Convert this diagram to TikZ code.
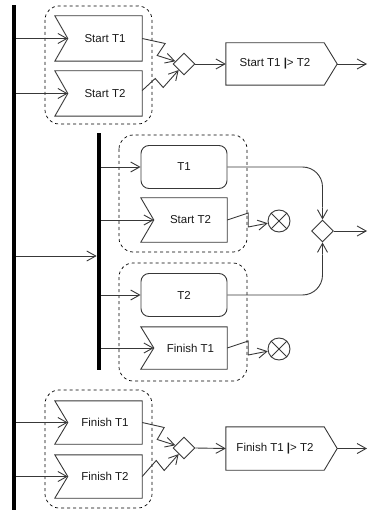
\documentclass[tikz,border=0pt]{standalone}
\usepackage{fontspec}
\setmainfont{Liberation Sans}
\usetikzlibrary{arrows.meta,shapes.geometric}
\tikzset{
  ln/.style={draw=black!78, line width=0.9pt},
  arr/.style={ln, -{Straight Barb[length=9pt,width=10pt]}},
  grp/.style={draw=black, dashed, line width=0.7pt, rounded corners=14pt},
  barbox/.style={fill=black, draw=none, inner sep=0pt, minimum width=4.3pt},
  boxnode/.style={inner sep=0pt, draw=none},
  lbl/.style={font=\fontsize{11.5}{13}\selectfont, text=black!90, inner sep=0pt},
  dec/.style={ln, diamond, aspect=1, inner sep=0pt, minimum size=22pt, fill=white},
  fin/.style={ln, circle, inner sep=0pt, minimum size=22pt},
}
\newcommand\accev[6]{% name, cx, cy, w, h, text
  \node[boxnode, minimum width=#4pt, minimum height=#5pt] (#1) at (#2,#3) {};
  \coordinate (#1-in) at ([xshift=13pt]#1.west);
  \draw[ln] (#1.north west) -- (#1.north east) -- (#1.south east) -- (#1.south west) -- (#1-in) -- cycle;
  \node[lbl] (#1-t) at ([xshift=6.5pt]#1.center) {#6};
}
\newcommand\sendsig[6]{% name, cx, cy, w, h, text
  \node[boxnode, minimum width=#4pt, minimum height=#5pt] (#1) at (#2,#3) {};
  \coordinate (#1-out) at ([xshift=13pt]#1.east);
  \draw[ln] (#1.north west) -- (#1.north east) -- (#1-out) -- (#1.south east) -- (#1.south west) -- cycle;
  \node[lbl] (#1-t) at (#1.center) {#6};
}
\newcommand\xfin[1]{%
  \draw[ln] (#1.north east) -- (#1.south west) (#1.north west) -- (#1.south east);
}
\begin{document}
\begin{tikzpicture}[x=1pt,y=-1pt]
\useasboundingbox (0,0) rectangle (367,510);

% main fork bar
\node[barbox, minimum height=505pt] (bar1) at (13.7,257.5) {};

% ---------- group 1 ----------
\draw[grp] (45,6) rectangle (152,124);
\accev{st1}{98.5}{38.5}{87}{45}{Start T1}
\accev{st2}{98.5}{93.5}{87}{45}{Start T2}
\node[dec] (d1) at (184,64) {};
\sendsig{p1}{275}{64}{98}{42}{Start T1 {\bfseries|}> T2}
\coordinate (o1) at (367,64);

\draw[arr] (st1-in -| bar1.east) -- (st1-in);
\draw[arr] (st2-in -| bar1.east) -- (st2-in);
\draw[arr] ([yshift=0pt]st1.east) -- ++(23,5) -- ++(-8,12) -- (d1);
\draw[arr] ([yshift=3pt]st2.east) -- ++(13,-12) -- ++(8,9) -- (d1);
\draw[arr] (d1.east) -- (p1.west);
\draw[arr] (p1-out) -- (o1);

% ---------- inner fork ----------
\node[barbox, minimum height=237pt] (bar2) at (99,251.5) {};
\coordinate (m3) at (15,256);
\draw[arr] (m3 -| bar1.east) -- (m3 -| bar2.west);

% group 2
\draw[grp] (119,135) rectangle (247,252);
\node[boxnode, ln, rounded corners=8pt, minimum width=86pt, minimum height=43pt] (t1) at (184,167) {};
\node[lbl] (t1-t) at (t1.center) {T1};
\accev{s22}{184}{220}{86}{44}{Start T2}
\node[fin] (x1) at (279,221) {};
\xfin{x1}

% group 3
\draw[grp] (119,263) rectangle (247,381);
\node[boxnode, ln, rounded corners=8pt, minimum width=86pt, minimum height=43pt] (t2) at (184,295) {};
\node[lbl] (t2-t) at (t2.center) {T2};
\accev{f21}{184}{348}{86}{42}{Finish T1}
\node[fin] (x2) at (279,349) {};
\xfin{x2}

\draw[arr] (t1.west -| bar2.east) -- (t1.west);
\draw[arr] (s22-in -| bar2.east) -- (s22-in);
\draw[arr] (t2.west -| bar2.east) -- (t2.west);
\draw[arr] (f21-in -| bar2.east) -- (f21-in);

\draw[arr] (s22.east) -- ++(21,-7) -- ++(0,14) -- (x1);
\draw[arr] (f21.east) -- ++(21,-7) -- ++(0,14) -- (x2);

\node[dec] (d2) at (322.5,231) {};
\coordinate (o2) at (367,231);
\coordinate (d2a) at ([yshift=12pt]d2.north);
\coordinate (d2b) at ([yshift=-12pt]d2.south);
\draw[ln, rounded corners=20pt] (t1.east) -- (t1.east -| d2.north) -- (d2a);
\draw[arr] (d2a) -- (d2.north);
\draw[ln, rounded corners=20pt] (t2.east) -- (t2.east -| d2.south) -- (d2b);
\draw[arr] (d2b) -- (d2.south);
\draw[arr] (d2.east) -- (o2);

% ---------- group 4 ----------
\draw[grp] (45,390) rectangle (152,508);
\accev{f1}{98.5}{422.5}{87}{43}{Finish T1}
\accev{f2}{98.5}{476.5}{87}{43}{Finish T2}
\node[dec] (d3) at (184,448) {};
\sendsig{p2}{275}{448.5}{98}{43}{Finish T1 {\bfseries|}> T2}
\coordinate (o3) at (367,448.5);

\draw[arr] (f1-in -| bar1.east) -- (f1-in);
\draw[arr] (f2-in -| bar1.east) -- (f2-in);
\draw[arr] (f1.east) -- ++(22,5) -- ++(-7,12) -- (d3);
\draw[arr] (f2.east) -- ++(14,-16) -- ++(8,10) -- (d3);
\draw[arr] (d3.east) -- (p2.west);
\draw[arr] (p2-out) -- (o3);
\end{tikzpicture}
\end{document}
